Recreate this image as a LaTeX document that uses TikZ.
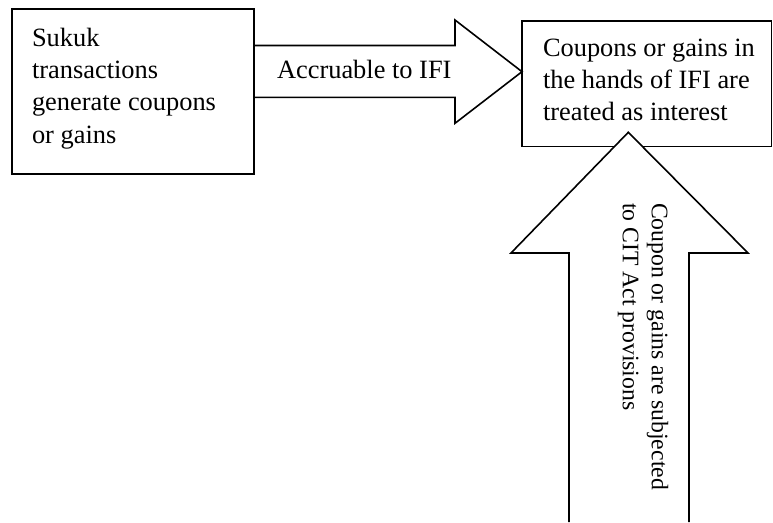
\documentclass[tikz,border=0pt]{standalone}
\usepackage{fontspec}
\setmainfont{Liberation Serif}
\begin{document}
\begin{tikzpicture}[x=1pt,y=-1pt,
  box/.style={draw=black, line width=1.6pt, inner sep=0pt, outer sep=0pt, anchor=north west},
  txt/.style={inner sep=0pt, outer sep=0pt, align=left, font=\fontsize{26.4}{32.3}\selectfont},
  vtxt/.style={inner sep=0pt, outer sep=0pt, align=left, rotate=-90, font=\fontsize{23.7}{29}\selectfont},
  arrowline/.style={draw=black, line width=1.6pt, line join=miter}]
\useasboundingbox[fill=white] (0,0) rectangle (773,522);

% boxes
\node[box, minimum width=242pt, minimum height=165pt] (sukuk) at (12,9) {};
\node[box, minimum width=249.5pt, minimum height=125.8pt] (interest) at (522,20.7) {};

% texts in boxes
\node[txt, anchor=north west] (sukuktext) at (32,27.8)
  {Sukuk\\transactions\\generate coupons\\or gains};
\node[txt, anchor=north west] (interesttext) at (543,38.8)
  {Coupons or gains in\\the hands of IFI are\\treated as interest};

% horizontal block arrow
\coordinate (hstart1) at (sukuk.east |- 0,45.5);
\coordinate (hstart2) at (sukuk.east |- 0,97.3);
\coordinate (htip) at (interest.west |- 0,71.7);
\draw[arrowline] (hstart1) -- (455,45.5) -- (455,20) -- (htip)
  -- (455,123.3) -- (455,97.3) -- (hstart2);
\node[txt, anchor=base west] (accr) at (277,78.3) {Accruable to IFI};

% vertical block arrow
\coordinate (vtip) at (628.3,132.3);
\coordinate (vbase1) at (569,522);
\coordinate (vbase2) at (689,522);
\path[arrowline, fill=white] (vbase1) -- (569,253) -- (511,253) -- (vtip)
  -- (748,253) -- (689,253) -- (vbase2);
\node[vtxt, anchor=north west] (cit) at (668.2,203)
  {Coupon or gains are subjected\\to CIT Act provisions};
\end{tikzpicture}
\end{document}
